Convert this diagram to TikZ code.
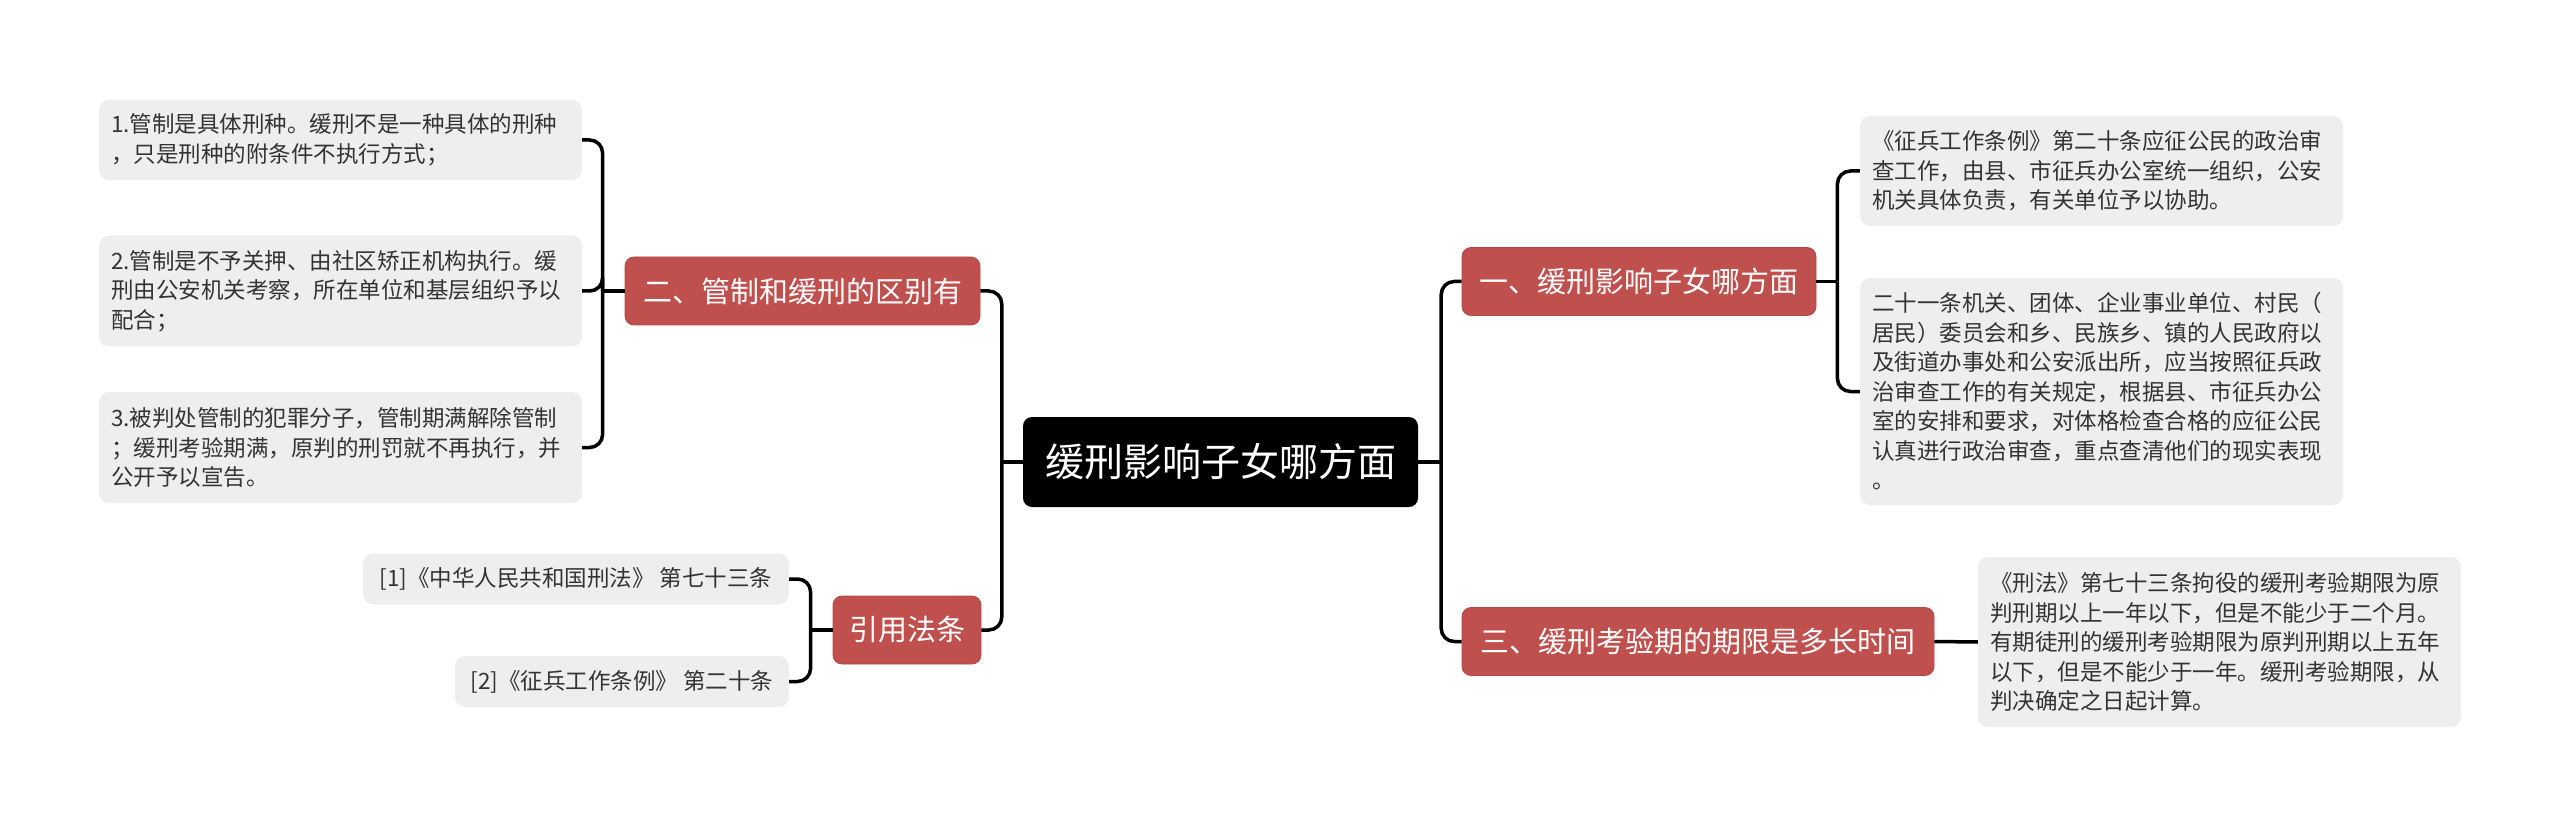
\documentclass[tikz,border=0pt]{standalone}
\usepackage{fontspec}
\setmainfont{Noto Sans CJK SC}
\usetikzlibrary{calc}
\definecolor{redbox}{HTML}{C0504D}
\definecolor{redborder}{HTML}{B54845}
\definecolor{leafgray}{HTML}{EEEEEE}
\definecolor{leaftext}{HTML}{333333}
\begin{document}
\begin{tikzpicture}[x=1pt,y=-1pt,
  conn/.style={line width=3.5pt, draw=black, rounded corners=13pt},
  stub/.style={line width=3.5pt, draw=black},
  rootbox/.style={fill=black, text=white, rounded corners=9pt, minimum width=395pt, minimum height=90pt, font=\fontsize{39}{45}\selectfont, inner sep=0pt},
  topicbox/.style={fill=redbox, draw=redborder, line width=0.8pt, text=white, rounded corners=9pt, minimum height=68pt, font=\fontsize{29}{34}\selectfont, inner sep=0pt},
  leafbox/.style={fill=leafgray, text=leaftext, rounded corners=10pt, font=\fontsize{22.5}{29.5}\selectfont, text width=459pt, inner xsep=12pt, inner ysep=0pt, align=left},
  refbox/.style={fill=leafgray, text=leaftext, rounded corners=10pt, font=\fontsize{22.5}{27}\selectfont, minimum height=51pt, inner sep=0pt}
]
\useasboundingbox[fill=white] (0,0) rectangle (2560,826);

% root and topics
\node[rootbox] (c) at (1220.5,462) {缓刑影响子女哪方面};
\node[topicbox, minimum width=355pt] (n2) at (802.5,291) {二、管制和缓刑的区别有};
\node[topicbox, minimum width=148pt] (nr) at (907,630) {引用法条};
\node[topicbox, minimum width=354pt] (n1) at (1639,281.5) {一、缓刑影响子女哪方面};
\node[topicbox, minimum width=472pt] (n3) at (1698,641.5) {三、缓刑考验期的期限是多长时间};

% left leaves
\node[leafbox, minimum height=80pt] (l1) at (340.5,140) {1.管制是具体刑种。缓刑不是一种具体的刑种\\，只是刑种的附条件不执行方式；};
\node[leafbox, minimum height=111pt] (l2) at (340.5,291) {2.管制是不予关押、由社区矫正机构执行。缓\\刑由公安机关考察，所在单位和基层组织予以\\配合；};
\node[leafbox, minimum height=111pt] (l3) at (340.5,447.5) {3.被判处管制的犯罪分子，管制期满解除管制\\；缓刑考验期满，原判的刑罚就不再执行，并\\公开予以宣告。};

% references
\node[refbox, minimum width=426pt] (r1) at (576,579) {[1]《中华人民共和国刑法》 第七十三条};
\node[refbox, minimum width=334pt] (r2) at (622,681.5) {[2]《征兵工作条例》 第二十条};

% right leaves
\node[leafbox, minimum height=110pt] (k1) at (2101.5,171) {《征兵工作条例》第二十条应征公民的政治审\\查工作，由县、市征兵办公室统一组织，公安\\机关具体负责，有关单位予以协助。};
\node[leafbox, minimum height=227pt] (k2) at (2101.5,391.5) {二十一条机关、团体、企业事业单位、村民（\\居民）委员会和乡、民族乡、镇的人民政府以\\及街道办事处和公安派出所，应当按照征兵政\\治审查工作的有关规定，根据县、市征兵办公\\室的安排和要求，对体格检查合格的应征公民\\认真进行政治审查，重点查清他们的现实表现\\。};
\node[leafbox, minimum height=170pt] (k3) at (2219.5,642) {《刑法》第七十三条拘役的缓刑考验期限为原\\判刑期以上一年以下，但是不能少于二个月。\\有期徒刑的缓刑考验期限为原判刑期以上五年\\以下，但是不能少于一年。缓刑考验期限，从\\判决确定之日起计算。};

% connectors: root left
\coordinate (cl) at ([xshift=-21pt]c.west);
\draw[stub] (c.west) -- (cl);
\draw[conn] (cl) |- (n2.east);
\draw[conn] (cl) |- (nr.east);
% root right
\coordinate (cr) at ([xshift=23pt]c.east);
\draw[stub] (c.east) -- (cr);
\draw[conn] (cr) |- (n1.west);
\draw[conn] (cr) |- (n3.west);
% topic 2 -> leaves
\coordinate (j2) at ([xshift=-22pt]n2.west);
\draw[stub] (n2.west) -- (j2);
\draw[conn] (j2) |- (l1.east);
\draw[conn] (j2) |- (l2.east);
\draw[conn] (j2) |- (l3.east);
% references
\coordinate (jr) at ([xshift=-22pt]nr.west);
\draw[stub] (nr.west) -- (jr);
\draw[conn] (jr) |- (r1.east);
\draw[conn] (jr) |- (r2.east);
% topic 1 -> leaves
\coordinate (j1) at ([xshift=21pt]n1.east);
\draw[stub] (n1.east) -- (j1);
\draw[conn] (j1) |- (k1.west);
\draw[conn] (j1) |- (k2.west);
% topic 3 -> leaf
\draw[stub] (n3.east) -- (k3.west);
\end{tikzpicture}
\end{document}
